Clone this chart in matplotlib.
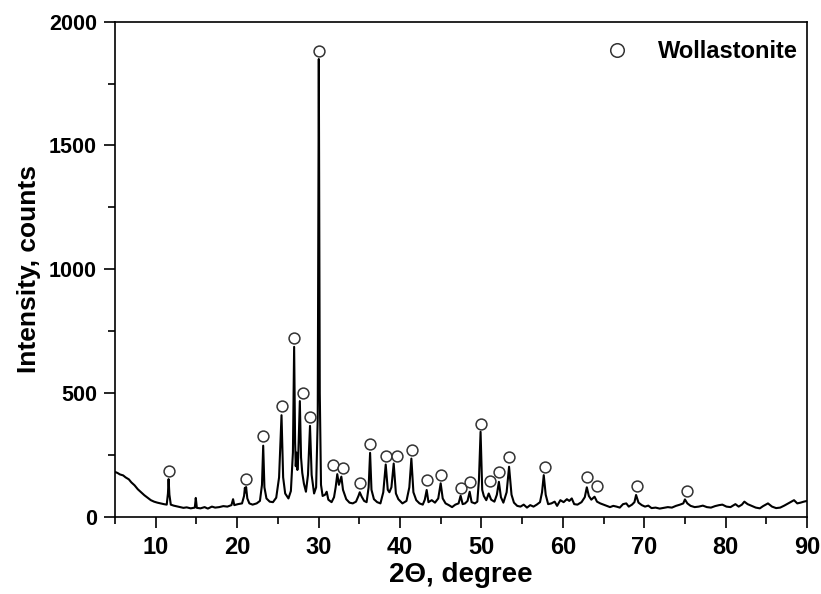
import matplotlib
matplotlib.use('Agg')
import matplotlib.pyplot as plt
from matplotlib.ticker import MultipleLocator

# XRD pattern (2theta in degrees, intensity in counts)
two_theta = [5.0, 5.3, 5.6, 6.0, 6.3, 6.7, 7.0, 7.4, 7.8, 8.2, 8.6, 9.0, 9.4, 9.8,
             10.2, 10.6, 11.0, 11.35, 11.5, 11.58, 11.68, 11.85, 12.2, 12.6, 13.0,
             13.4, 13.8, 14.3, 14.8, 14.92, 15.05, 15.5, 16.0, 16.4, 16.9, 17.3,
             17.8, 18.3, 18.8, 19.3, 19.5, 19.65, 20.1, 20.6, 20.85, 20.95, 21.02,
             21.1, 21.25, 21.5, 21.9, 22.4, 22.8, 23.05, 23.2, 23.35, 23.6, 24.0,
             24.4, 24.8, 25.15, 25.45, 25.65, 25.9, 26.3, 26.6, 26.85, 27.0, 27.12,
             27.2, 27.3, 27.4, 27.5, 27.7, 27.85, 28.0, 28.2, 28.45, 28.7, 28.95,
             29.15, 29.45, 29.7, 29.9, 30.03, 30.15, 30.3, 30.5, 30.8, 31.0, 31.2,
             31.6, 31.9, 32.1, 32.3, 32.5, 32.8, 33.0, 33.4, 33.8, 34.2, 34.6, 34.9,
             35.06, 35.3, 35.6, 35.9, 36.15, 36.33, 36.5, 36.8, 37.2, 37.6, 37.95,
             38.25, 38.5, 38.7, 38.95, 39.23, 39.5, 39.8, 40.3, 40.8, 41.15, 41.4,
             41.65, 42.0, 42.4, 42.8, 43.05, 43.28, 43.5, 43.9, 44.3, 44.7, 45.0,
             45.25, 45.6, 46.0, 46.4, 46.8, 47.2, 47.45, 47.7, 48.0, 48.3, 48.56,
             48.8, 49.2, 49.5, 49.7, 49.9, 50.1, 50.3, 50.6, 50.9, 51.2, 51.6, 51.9,
             52.15, 52.4, 52.7, 53.1, 53.4, 53.7, 54.0, 54.4, 54.8, 55.2, 55.6, 56.0,
             56.4, 56.8, 57.2, 57.45, 57.66, 57.9, 58.2, 58.6, 59.0, 59.3, 59.7,
             60.1, 60.5, 60.8, 61.1, 61.4, 61.8, 62.3, 62.7, 62.95, 63.2, 63.5, 63.9,
             64.2, 64.6, 65.0, 65.4, 65.8, 66.2, 66.6, 67.0, 67.4, 67.8, 68.1, 68.5,
             68.8, 69.0, 69.3, 69.7, 70.1, 70.5, 70.9, 71.4, 71.9, 72.4, 72.9, 73.4,
             73.9, 74.4, 74.8, 75.0, 75.3, 75.7, 76.2, 76.7, 77.2, 77.7, 78.2, 78.7,
             79.2, 79.6, 80.1, 80.6, 81.2, 81.6, 82.0, 82.3, 82.7, 83.2, 83.7, 84.2,
             84.6, 85.2, 85.7, 86.2, 86.7, 87.2, 87.7, 88.1, 88.4, 88.8, 89.2, 89.6,
             90.0]
intensity = [182, 178, 172, 168, 160, 152, 140, 128, 112, 100, 88, 78, 68, 62,
             58, 55, 52, 50, 95, 153, 90, 50, 46, 43, 40,
             37, 39, 35, 38, 77, 37, 35, 40, 34, 42, 38,
             40, 44, 42, 48, 72, 48, 52, 55, 85, 118, 100,
             121, 75, 55, 50, 55, 65, 130, 288, 120, 75, 62,
             60, 78, 160, 411, 160, 95, 75, 105, 260, 687, 300,
             205, 260, 190, 240, 468, 240, 178, 135, 102, 170, 368,
             170, 95, 120, 400, 1849, 500, 130, 85, 90, 102, 70,
             60, 80, 120, 173, 130, 163, 110, 72, 58, 55, 62, 85,
             100, 82, 65, 60, 120, 259, 110, 72, 60, 55, 100,
             212, 110, 100, 120, 216, 95, 72, 55, 65, 120, 236,
             100, 68, 55, 50, 70, 109, 60, 68, 58, 75, 136,
             75, 55, 48, 40, 50, 55, 86, 52, 55, 65, 102,
             60, 55, 62, 150, 344, 110, 85, 68, 95, 70, 62, 90,
             142, 80, 58, 100, 203, 90, 58, 45, 42, 50, 38, 48,
             42, 50, 60, 100, 169, 90, 52, 55, 62, 45, 68,
             60, 72, 65, 75, 52, 50, 60, 80, 120, 85, 70, 82,
             62, 55, 50, 45, 40, 45, 42, 38, 52, 55, 42, 50,
             60, 89, 58, 48, 42, 46, 36, 38, 34, 37, 40, 38,
             45, 50, 55, 71, 55, 45, 40, 42, 46, 40, 38, 44,
             48, 50, 42, 40, 52, 42, 50, 62, 52, 45, 38, 35,
             44, 55, 42, 36, 38, 46, 55, 62, 68, 55, 58, 62,
             65]

# wollastonite marks (circle centres)
woll_x = [11.58, 21.1, 23.2, 25.45, 27.0, 28.05, 28.95, 30.03, 31.82, 33.05,
          35.1, 36.33, 38.25, 39.64, 41.45, 43.28, 45.0, 47.45, 48.56, 49.9,
          51.07, 52.17, 53.4, 57.83, 62.95, 64.25, 69.17, 75.23]
woll_y = [187, 153, 328, 449, 723, 500, 404, 1883, 210, 196,
          137, 293, 245, 247, 270, 149, 168, 118, 141, 375,
          146, 180, 241, 203, 163, 125, 125, 106]

plt.rcParams['font.family'] = ['Liberation Sans', 'DejaVu Sans']

fig = plt.figure(figsize=(8.21, 5.94), dpi=100)
ax = fig.add_axes([0.1401, 0.1296, 0.8429, 0.834])

ax.plot(two_theta, intensity, color='black', lw=1.5, zorder=2)
ax.plot(woll_x, woll_y, 'o', ms=7.8, mfc='white', mec='#333333', mew=1.1,
        ls='none', label='Wollastonite', zorder=3)

ax.set_xlim(5, 90)
ax.set_ylim(0, 2000)
ax.xaxis.set_major_locator(MultipleLocator(10))
ax.xaxis.set_minor_locator(MultipleLocator(5))
ax.yaxis.set_major_locator(MultipleLocator(500))
ax.yaxis.set_minor_locator(MultipleLocator(250))
ax.tick_params(which='both', direction='out', width=1.2, top=False, right=False)
ax.tick_params(which='major', length=8)
ax.tick_params(which='minor', length=5)
ax.tick_params(axis='y', pad=5)
ax.tick_params(axis='x', pad=6)
for sp in ax.spines.values():
    sp.set_linewidth(1.2)

for lab in ax.get_yticklabels():
    lab.set_fontsize(15.5)
    lab.set_fontweight('bold')
for lab in ax.get_xticklabels():
    lab.set_fontsize(17)
    lab.set_fontweight('bold')

ax.set_xlabel('2Θ, degree', fontsize=20, fontweight='bold', labelpad=2)
ax.set_ylabel('Intensity, counts', fontsize=19, fontweight='bold', labelpad=6)

leg = ax.legend(loc='upper right', bbox_to_anchor=(0.986, 0.962), frameon=False,
                borderaxespad=0, borderpad=0, handlelength=1.0, handletextpad=1.2,
                markerscale=1.25, prop={'size': 17, 'weight': 'bold'})

fig.savefig('out.png', dpi=100)
